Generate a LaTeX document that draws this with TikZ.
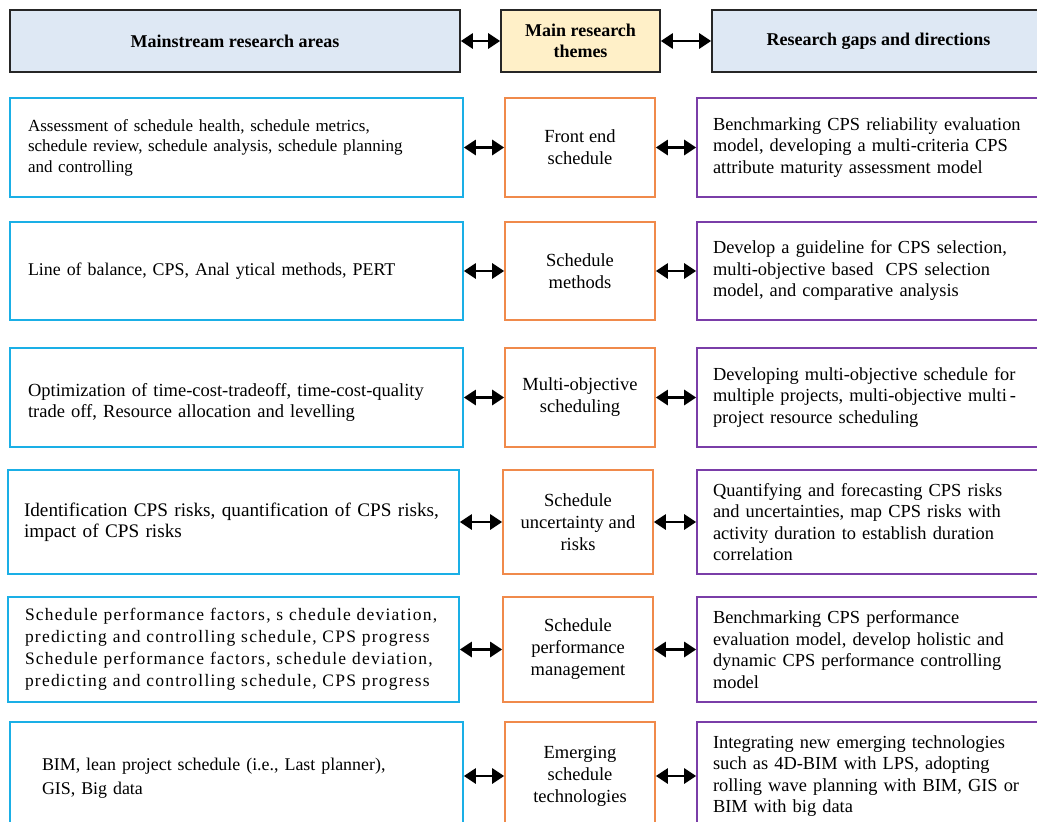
\documentclass[tikz,border=0pt]{standalone}
\usepackage{fontspec}
\setmainfont{Liberation Serif}
\usetikzlibrary{arrows.meta}

\definecolor{headblue}{HTML}{DEE8F4}
\definecolor{headyellow}{HTML}{FFF0C8}
\definecolor{areacyan}{HTML}{1AAFE6}
\definecolor{themeorange}{HTML}{F08A4B}
\definecolor{gappurple}{HTML}{7A3DA8}

\begin{document}
\begin{tikzpicture}[x=1pt,y=-1pt,
  head box/.style={draw=black!85,line width=1.6pt,minimum height=62pt,inner sep=0pt,align=center,font=\bfseries\fontsize{18}{21}\selectfont},
  area box/.style={draw=areacyan,line width=1.6pt,inner xsep=18pt,text width=417pt,minimum height=99pt,align=left,font=\fontsize{17}{20.5}\selectfont},
  theme box/.style={draw=themeorange,line width=1.6pt,minimum width=150pt,minimum height=99pt,inner sep=0pt,align=center,font=\fontsize{18.5}{22}\selectfont},
  gap box/.style={draw=gappurple,line width=1.6pt,inner xsep=16pt,text width=316pt,minimum height=99pt,align=left,font=\fontsize{18.4}{21.5}\selectfont},
  link/.style={{Triangle[length=12pt,width=15pt]}-{Triangle[length=12pt,width=15pt]},line width=2.6pt}]

  \useasboundingbox (0,0) rectangle (1037,822);
  \clip (0,0) rectangle (1037,822);

  % header row
  \node[head box,fill=headblue,minimum width=450pt] (h0) at (235,41) {Mainstream research areas};
  \node[head box,fill=headyellow,minimum width=159pt] (h1) at (580.5,41) {Main research\\themes};
  \node[head box,fill=headblue,minimum width=333pt] (h2) at (878.5,41) {Research gaps and directions};

  % mainstream research areas
  \node[area box] (a1) at (236.5,147.5) {Assessment of schedule health, schedule metrics,\\schedule review, schedule analysis, schedule planning\\and controlling};
  \node[area box,minimum height=98pt,font=\fontsize{17.9}{21}\selectfont] (a2) at (236.5,271) {Line of balance, CPS, Anal ytical methods, PERT};
  \node[area box,text depth=15pt,font=\fontsize{18.5}{21}\selectfont] (a3) at (236.5,397.5) {Optimization of time-cost-tradeoff, time-cost-quality\\trade off, Resource allocation and levelling};
  \node[area box,inner xsep=16pt,text width=419pt,minimum height=104pt,font=\fontsize{19.2}{21}\selectfont] (a4) at (233.5,522) {Identification CPS risks, quantification of CPS risks,\\impact of CPS risks};
  \node[area box,inner xsep=17pt,text width=417pt,minimum height=105pt,font=\fontsize{17.5}{22}\selectfont\addfontfeature{LetterSpace=7}] (a5) at (233.5,649.5) {Schedule performance factors, s chedule deviation,\\predicting and controlling schedule, CPS progress\\Schedule performance factors, schedule deviation,\\predicting and controlling schedule, CPS progress};
  \node[area box,inner xsep=32pt,text width=389pt,minimum height=108pt,font=\fontsize{17.9}{21}\selectfont] (a6) at (236.5,776) {\\[-4pt]BIM, lean project schedule (i.e., Last planner),\\[3pt]GIS, Big data};

  % main research themes
  \node[theme box] (t1) at (580,147.5) {Front end\\schedule};
  \node[theme box,minimum height=98pt] (t2) at (580,271) {Schedule\\methods};
  \node[theme box] (t3) at (580,397.5) {Multi-objective\\scheduling};
  \node[theme box,minimum height=104pt] (t4) at (578,522) {Schedule\\uncertainty and\\risks};
  \node[theme box,minimum height=105pt] (t5) at (578,649.5) {Schedule\\performance\\management};
  \node[theme box,minimum height=108pt] (t6) at (580,776) {Emerging\\schedule\\technologies};

  % research gaps and directions
  \node[gap box] (g1) at (871,147.5) {Benchmarking CPS reliability evaluation\\model, developing a multi-criteria CPS\\attribute maturity assessment model};
  \node[gap box,minimum height=98pt] (g2) at (871,271) {Develop a guideline for CPS selection,\\multi-objective based\ \ CPS selection\\model, and comparative analysis};
  \node[gap box] (g3) at (871,397.5) {Developing multi-objective schedule for\\multiple projects, multi-objective multi\,-\\project resource scheduling};
  \node[gap box,minimum height=104pt] (g4) at (871,522) {Quantifying and forecasting CPS risks\\and uncertainties, map CPS risks with\\activity duration to establish duration\\correlation};
  \node[gap box,minimum height=105pt] (g5) at (871,649.5) {Benchmarking CPS performance\\evaluation model, develop holistic and\\dynamic CPS performance controlling\\model};
  \node[gap box,minimum height=108pt] (g6) at (871,776) {Integrating new emerging technologies\\such as 4D-BIM with LPS, adopting\\rolling wave planning with BIM, GIS or\\BIM with big data};

  \path
  (h0) edge[link] (h1)
  (h1) edge[link] (h2)
  (a1) edge[link] (t1)
  (t1) edge[link] (g1)
  (a2) edge[link] (t2)
  (t2) edge[link] (g2)
  (a3) edge[link] (t3)
  (t3) edge[link] (g3)
  (a4) edge[link] (t4)
  (t4) edge[link] (g4)
  (a5) edge[link] (t5)
  (t5) edge[link] (g5)
  (a6) edge[link] (t6)
  (t6) edge[link] (g6);
\end{tikzpicture}
\end{document}
